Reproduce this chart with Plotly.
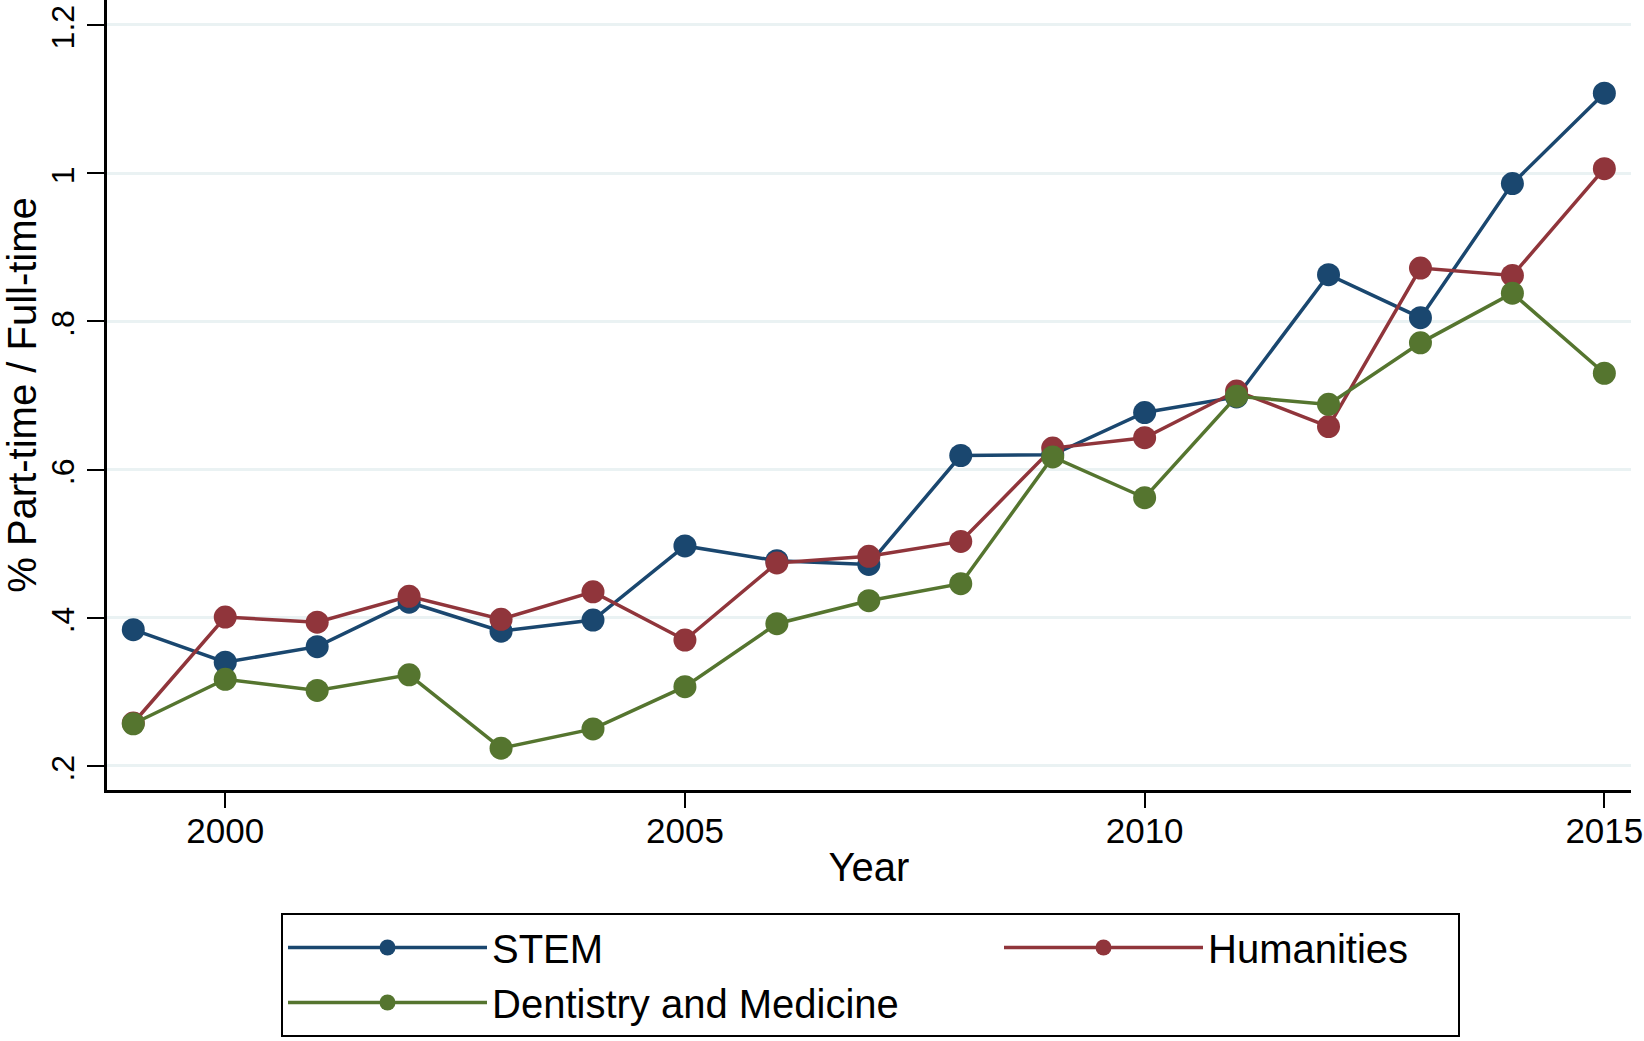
import plotly.graph_objects as go

years = list(range(1999, 2016))
stem = [0.384, 0.340, 0.361, 0.421, 0.382, 0.397, 0.497, 0.477, 0.472, 0.619,
        0.620, 0.677, 0.698, 0.863, 0.805, 0.986, 1.108]
humanities = [0.258, 0.401, 0.394, 0.429, 0.398, 0.435, 0.370, 0.474, 0.483, 0.503,
              0.629, 0.643, 0.706, 0.658, 0.872, 0.862, 1.006]
dentistry = [0.257, 0.317, 0.302, 0.323, 0.224, 0.250, 0.307, 0.392, 0.423, 0.446,
             0.617, 0.562, 0.699, 0.688, 0.771, 0.838, 0.730]

series_names = ["STEM", "Humanities", "Dentistry and Medicine"]
series_colors = ["#1a476f", "#90353b", "#55752f"]
legend_widths = [502, 245, 450]

y_tickvals = [0.2, 0.4, 0.6, 0.8, 1.0, 1.2]
y_ticktext = [".2", ".4", ".6", ".8", "1", "1.2"]
x_tickvals = [2000, 2005, 2010, 2015]

FONT = "Liberation Sans, Arial, Helvetica, sans-serif"

fig = go.Figure()
for name, vals, col, lw in zip(series_names, [stem, humanities, dentistry], series_colors, legend_widths):
    fig.add_trace(go.Scatter(
        x=years, y=vals, name=name, mode="lines+markers",
        line=dict(color=col, width=3.5),
        marker=dict(color=col, size=23),
        legendwidth=lw,
    ))

fig.update_layout(
    width=1644, height=1041,
    margin=dict(l=107, r=13, t=0, b=251, autoexpand=False),
    plot_bgcolor="white", paper_bgcolor="white",
    font=dict(family=FONT, color="black"),
    showlegend=True,
    legend=dict(
        orientation="h", xref="container", yref="container",
        x=281 / 1644, xanchor="left", y=(1041 - 913) / 1041, yanchor="top",
        itemwidth=199, bordercolor="black", borderwidth=2, bgcolor="white",
        font=dict(size=40, family=FONT, color="black"), traceorder="normal",
    ),
    xaxis=dict(
        range=[1998.714, 2015.29], tickvals=x_tickvals,
        showgrid=False, zeroline=False, showline=True, linecolor="black", linewidth=2.5,
        ticks="outside", ticklen=15, tickwidth=2, tickcolor="black",
        ticklabelstandoff=-7, ticklabeloverflow="allow",
        tickfont=dict(size=35, family=FONT, color="black"),
        title=dict(text="Year", font=dict(size=40, family=FONT, color="black"), standoff=5),
    ),
    yaxis=dict(
        range=[0.1676, 1.2337], tickvals=y_tickvals, ticktext=y_ticktext, tickangle=-90,
        showgrid=True, gridcolor="#eaf2f3", gridwidth=2.5, zeroline=False,
        showline=True, linecolor="black", linewidth=2.5,
        ticks="outside", ticklen=17, tickwidth=2, tickcolor="black",
        ticklabeloverflow="allow", ticklabelshift=7,
        tickfont=dict(size=32, family=FONT, color="black"),
        title=dict(text="% Part-time / Full-time", font=dict(size=40, family=FONT, color="black"), standoff=16),
    ),
)

fig.write_html("out.html", config={"displayModeBar": False},
               post_script="document.body.style.margin='0';")
